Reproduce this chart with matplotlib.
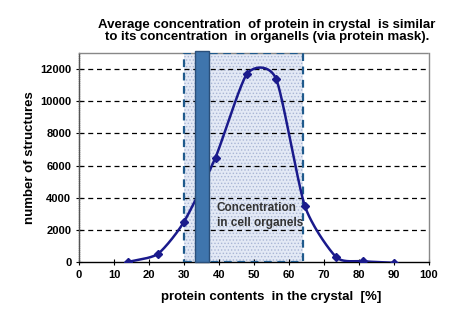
import numpy as np
import matplotlib
matplotlib.use("Agg")
from matplotlib import pyplot as plt
from matplotlib.patches import Rectangle

plt.rcParams['font.family'] = ['Liberation Sans', 'DejaVu Sans']
plt.rcParams['hatch.color'] = '#a9b6d6'
plt.rcParams['hatch.linewidth'] = 0.6

# data
protein_pct = [14, 22.5, 30, 39, 48, 56.3, 64.5, 73.5, 81, 90]
n_structures = [0, 500, 2500, 6500, 11700, 11400, 3500, 300, 50, -50]
organel_range = [30, 64]
crystal_band = [33, 37]


def smooth(x, y, n=30, k=0.33):
    # Catmull-Rom style smoothing like Excel's "smoothed line"
    x = np.asarray(x, float)
    y = np.asarray(y, float)
    px = np.concatenate([[2 * x[0] - x[1]], x, [2 * x[-1] - x[-2]]])
    py = np.concatenate([[2 * y[0] - y[1]], y, [2 * y[-1] - y[-2]]])
    xs, ys = [], []
    t = np.linspace(0, 1, n)
    h00 = 2 * t ** 3 - 3 * t ** 2 + 1
    h10 = t ** 3 - 2 * t ** 2 + t
    h01 = -2 * t ** 3 + 3 * t ** 2
    h11 = t ** 3 - t ** 2
    for i in range(1, len(px) - 2):
        for p, out in ((px, xs), (py, ys)):
            m1 = k * (p[i + 1] - p[i - 1])
            m2 = k * (p[i + 2] - p[i])
            out.extend(h00 * p[i] + h10 * m1 + h01 * p[i + 1] + h11 * m2)
    return np.array(xs), np.array(ys)


fig = plt.figure(figsize=(4.53, 3.23), dpi=100)
ax = fig.add_axes([79 / 453, 61 / 323, 350 / 453, 209 / 323])
ax.set_xlim(0, 100)
ax.set_ylim(0, 13000)

# light hatched region for organelle concentration
ax.add_patch(Rectangle((organel_range[0], 0), organel_range[1] - organel_range[0], 13000,
                       facecolor='#e3e9f5', edgecolor='#a9b6d6', lw=0, hatch='.....', zorder=1))
ax.add_patch(Rectangle((organel_range[0], 0), organel_range[1] - organel_range[0], 13000,
                       facecolor='none', edgecolor='#1f5a8c', lw=1.6, ls=(0, (3.5, 2.5)), zorder=3))

for yv in range(2000, 13000, 2000):
    ax.axhline(yv, color='black', lw=0.9, ls=(0, (4, 3)), zorder=2)

sx, sy = smooth(protein_pct, n_structures)
ax.plot(sx, sy, color='#1a1a8c', lw=1.8, zorder=4)
ax.plot(protein_pct, n_structures, ls='none', marker='D', ms=4.5, color='#1a1a8c', zorder=5)

# dark band
ax.add_patch(Rectangle((crystal_band[0], 0), crystal_band[1] - crystal_band[0], 13150,
                       facecolor='#3f75ad', edgecolor='#2a4f7a', lw=1.0, zorder=6, clip_on=False))

ax.text(39.3, 2900, 'Concentration\nin cell organels', fontsize=8.5, color='#333333',
        fontweight='bold', va='center', ha='left', linespacing=1.25, zorder=7)

ax.set_xticks(range(0, 101, 10))
ax.set_yticks(range(0, 13000, 2000))
ax.tick_params(labelsize=8, length=4, width=0.8, direction='inout')
for lab in ax.get_xticklabels() + ax.get_yticklabels():
    lab.set_fontweight('bold')
for s in ax.spines.values():
    s.set_color('#888888')
    s.set_linestyle((0, (1, 1)))
    s.set_linewidth(1.0)
ax.spines['bottom'].set_color('black')
ax.spines['bottom'].set_linestyle('-')
ax.spines['left'].set_color('#555555')
ax.spines['left'].set_linestyle((0, (1, 0.5)))

ax.set_xlabel('protein contents  in the crystal  [%]', fontsize=9.5, fontweight='bold')
ax.xaxis.set_label_coords(192 / 350, -29 / 209)
ax.set_ylabel('number of structures', fontsize=9.5, fontweight='bold')
ax.yaxis.set_label_coords(-43 / 350, 0.5)
fig.text(267 / 453, 1 - 31 / 323,
         'Average concentration  of protein in crystal  is similar\nto its concentration  in organells (via protein mask).',
         ha='center', va='center', fontsize=9.5, fontweight='bold', linespacing=1.05)

fig.savefig('out.png', dpi=100)
